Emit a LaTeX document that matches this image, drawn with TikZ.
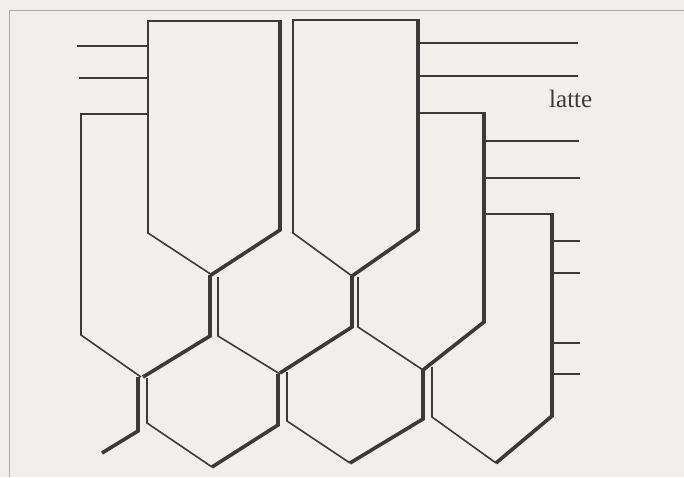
\documentclass[tikz,border=0pt]{standalone}
\usepackage{fontspec}
\setmainfont{Liberation Serif}
\definecolor{paper}{HTML}{F1EFEB}
\definecolor{ink}{HTML}{3A3A3A}
\definecolor{frame}{HTML}{A9A9A9}
\tikzset{
  thinln/.style={draw=ink, line width=1.6pt, line cap=butt, line join=miter},
  thickln/.style={draw=ink, line width=3.6pt, line cap=butt, line join=miter},
  frameln/.style={draw=frame, line width=1pt}
}
\begin{document}
\begin{tikzpicture}[x=1pt,y=-1pt]
\fill[paper] (0,0) rectangle (684,477);
\useasboundingbox (0,0) rectangle (684,477);
% frame
\draw[frameln] (684,10) -- (9.5,10) -- (9.5,477);
% ---- thin edges ----
% cell A
\draw[thinln] (280,21) -- (148,21) -- (148,233) -- (212,275);
% cell C
\draw[thinln] (418,20) -- (293,20) -- (293,233) -- (352,276);
% left ticks and cell B
\draw[thinln] (77,46) -- (148,46);
\draw[thinln] (79,78) -- (148,78);
\draw[thinln] (148,114) -- (81,114) -- (81,335) -- (141,377);
% right ticks and cell D
\draw[thinln] (418,43) -- (578,43);
\draw[thinln] (418,76) -- (578,76);
\draw[thinln] (418,113) -- (484,113);
\draw[thinln] (484,141) -- (579,141);
\draw[thinln] (484,178) -- (580,178);
\draw[thinln] (484,214) -- (552,214);
% E ticks
\draw[thinln] (552,241) -- (580,241);
\draw[thinln] (552,273) -- (580,273);
\draw[thinln] (552,343) -- (580,343);
\draw[thinln] (552,374) -- (580,374);
% lower cells, left edges
\draw[thinln] (218,277) -- (218,336) -- (280,374);
\draw[thinln] (358,277) -- (358,327) -- (423,370);
\draw[thinln] (147,378) -- (147,423) -- (212,467);
\draw[thinln] (287,372) -- (287,421) -- (350,463);
\draw[thinln] (432,367) -- (432,417) -- (496,463);
% ---- thick edges ----
\draw[thickln] (280,20) -- (280,230) -- (211,275);
\draw[thickln] (418,19) -- (418,230) -- (352,276);
\draw[thickln] (210,275) -- (210,336) -- (143,377);
\draw[thickln] (352,276) -- (352,327) -- (280,373);
\draw[thickln] (484,112) -- (484,322) -- (423,370);
\draw[thickln] (138,377) -- (138,431) -- (102,453);
\draw[thickln] (278,374) -- (278,425) -- (212,467);
\draw[thickln] (423,370) -- (423,419) -- (350,463);
\draw[thickln] (552,213) -- (552,416) -- (496,463);
% label
\node[anchor=base west, inner sep=0pt, text=ink, font=\fontsize{25}{25}\selectfont] (latte) at (549,107) {latte};
\end{tikzpicture}
\end{document}
